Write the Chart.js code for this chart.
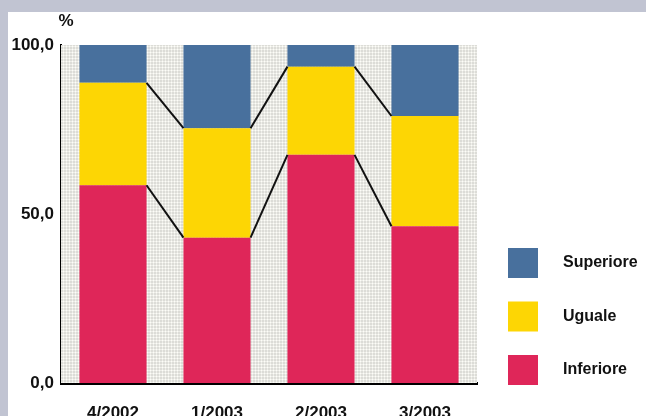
<!DOCTYPE html>
<html>
<head>
<meta charset="utf-8">
<script src="https://cdn.jsdelivr.net/npm/chart.js@4/dist/chart.umd.min.js"></script>
<style>
    html, body { margin: 0; padding: 0; }
    body { width: 646px; height: 416px; background: #c1c4d2; overflow: hidden; position: relative; }
    #wrap { position: absolute; left: 8px; top: 12px; width: 638px; height: 404px; background: #fff; }
</style>
</head>
<body>
<div id="wrap"><canvas id="chart" width="638" height="404"></canvas></div>
<script>
(function () {
    'use strict';

    var labels = ['4/2002', '1/2003', '2/2003', '3/2003'];
    var inferiore = [58.5, 43.0, 67.5, 46.4];
    var uguale = [30.3, 32.4, 26.1, 32.6];
    var superiore = [11.2, 24.6, 6.4, 21.0];
    var yTicks = [0, 50, 100];

    var fontFamily = '"Liberation Sans", Arial, sans-serif';
    Chart.defaults.font.family = fontFamily;
    Chart.defaults.color = '#111';

    // dotted light grey plot background
    var tile = document.createElement('canvas');
    tile.width = 3; tile.height = 3;
    var tc = tile.getContext('2d');
    tc.fillStyle = '#dcdcd7';
    tc.fillRect(0, 0, 3, 3);
    tc.fillStyle = '#fdfdf8';
    tc.fillRect(1, 1, 1, 1);
    tc.fillStyle = '#eeeee9';
    tc.fillRect(0, 1, 1, 1);
    tc.fillRect(1, 0, 1, 1);
    tc.fillRect(2, 1, 1, 1);
    tc.fillRect(1, 2, 1, 1);

    var plotBg = {
        id: 'plotBg',
        beforeDatasetsDraw: function (chart) {
            var a = chart.chartArea, ctx = chart.ctx;
            ctx.save();
            ctx.fillStyle = ctx.createPattern(tile, 'repeat');
            ctx.fillRect(a.left, a.top, a.right - a.left, a.bottom - a.top);
            ctx.restore();
        }
    };

    // black lines joining the stack boundaries of neighbouring bars
    var seriesLines = {
        id: 'seriesLines',
        afterDatasetsDraw: function (chart) {
            var ctx = chart.ctx;
            ctx.save();
            ctx.strokeStyle = '#111';
            ctx.lineWidth = 2;
            [0, 1].forEach(function (di) {
                var bars = chart.getDatasetMeta(di).data;
                for (var i = 0; i < bars.length - 1; i++) {
                    var a = bars[i], b = bars[i + 1];
                    ctx.beginPath();
                    ctx.moveTo(a.x + a.width / 2, a.y);
                    ctx.lineTo(b.x - b.width / 2, b.y);
                    ctx.stroke();
                }
            });
            ctx.restore();
        }
    };

    var unitLabel = {
        id: 'unitLabel',
        afterDraw: function (chart) {
            var a = chart.chartArea, ctx = chart.ctx;
            ctx.save();
            ctx.font = 'bold 17px ' + fontFamily;
            ctx.fillStyle = '#111';
            ctx.textAlign = 'center';
            ctx.textBaseline = 'middle';
            ctx.fillText('%', a.left + 5, a.top - 24);
            ctx.restore();
        }
    };

    var sideLegend = {
        id: 'sideLegend',
        afterDraw: function (chart) {
            var a = chart.chartArea, ctx = chart.ctx;
            var ds = chart.data.datasets.slice().reverse();
            var size = 30, step = 53.5;
            var x = a.right + 31;
            var y0 = a.bottom + 2 - size - step * (ds.length - 1);
            ctx.save();
            ctx.font = 'bold 16px ' + fontFamily;
            ctx.textBaseline = 'middle';
            ds.forEach(function (d, i) {
                var y = y0 + i * step;
                ctx.fillStyle = d.backgroundColor;
                ctx.fillRect(x, y, size, size);
                ctx.fillStyle = '#111';
                ctx.fillText(d.label, x + 55, y + size / 2);
            });
            ctx.restore();
        }
    };

    new Chart(document.getElementById('chart'), {
        type: 'bar',
        data: {
            labels: labels,
            datasets: [
                { label: 'Inferiore', data: inferiore, backgroundColor: '#df2659' },
                { label: 'Uguale', data: uguale, backgroundColor: '#fdd604' },
                { label: 'Superiore', data: superiore, backgroundColor: '#48709d' }
            ]
        },
        options: {
            responsive: false,
            animation: false,
            layout: { padding: { top: 33, right: 169, left: 0, bottom: 0 } },
            datasets: { bar: { categoryPercentage: 1, barPercentage: 0.645, borderWidth: 0 } },
            plugins: { legend: { display: false }, tooltip: { enabled: false } },
            scales: {
                x: {
                    stacked: true,
                    grid: { display: false, drawTicks: false },
                    border: { display: true, color: '#000', width: 3 },
                    ticks: { font: { size: 17, weight: 'bold' }, color: '#111', padding: 20, maxRotation: 0 },
                    afterFit: function (s) { s.height = 33; }
                },
                y: {
                    stacked: true,
                    min: 0,
                    max: 100,
                    grid: { display: false, drawTicks: false },
                    border: { display: true, color: '#000', width: 2 },
                    afterBuildTicks: function (s) { s.ticks = yTicks.map(function (v) { return { value: v }; }); },
                    ticks: {
                        font: { size: 17, weight: 'bold' },
                        color: '#111',
                        padding: 7,
                        callback: function (v) { return v.toFixed(1).replace('.', ','); }
                    },
                    afterFit: function (s) { s.width = 53; }
                }
            }
        },
        plugins: [plotBg, seriesLines, unitLabel, sideLegend]
    });
})();
</script>
</body>
</html>
